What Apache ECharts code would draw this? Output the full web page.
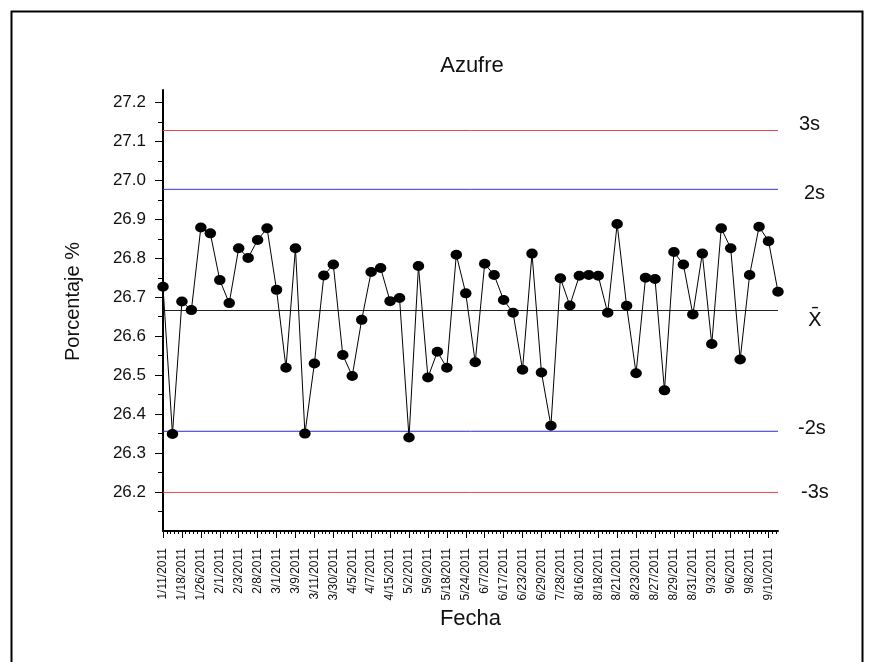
<!DOCTYPE html>
<html>
<head>
<meta charset="utf-8">
<title>Azufre</title>
<script src="https://cdn.jsdelivr.net/npm/echarts@6/dist/echarts.min.js"></script>
<style>
  html, body { margin: 0; padding: 0; background: #fff; }
  #chart { width: 870px; height: 662px; }
</style>
</head>
<body>
<div id="chart"></div>
<script>
// Sulfur content per sample (%), in sampling order
const sulfurValues = [
  26.727, 26.349, 26.689, 26.667, 26.879, 26.864, 26.744, 26.685, 26.826, 26.801,
  26.847, 26.877, 26.719, 26.519, 26.826, 26.350, 26.530, 26.756, 26.784, 26.552,
  26.498, 26.642, 26.765, 26.775, 26.690, 26.698, 26.340, 26.780, 26.494, 26.560,
  26.519, 26.809, 26.710, 26.533, 26.786, 26.757, 26.693, 26.660, 26.514, 26.812,
  26.507, 26.370, 26.749, 26.679, 26.755, 26.757, 26.755, 26.660, 26.888, 26.678,
  26.505, 26.750, 26.747, 26.461, 26.816, 26.784, 26.656, 26.812, 26.580, 26.877,
  26.826, 26.540, 26.757, 26.881, 26.844, 26.714
];

// Dates shown under every second sample
const dateLabels = [
  '1/11/2011', '1/18/2011', '1/26/2011', '2/1/2011', '2/3/2011', '2/8/2011',
  '3/1/2011', '3/9/2011', '3/11/2011', '3/30/2011', '4/5/2011', '4/7/2011',
  '4/15/2011', '5/2/2011', '5/9/2011', '5/18/2011', '5/24/2011', '6/7/2011',
  '6/17/2011', '6/23/2011', '6/29/2011', '7/28/2011', '8/16/2011', '8/18/2011',
  '8/21/2011', '8/23/2011', '8/27/2011', '8/29/2011', '8/31/2011', '9/3/2011',
  '9/6/2011', '9/8/2011', '9/10/2011'
];

// Control limits: +3s, +2s, mean, -2s, -3s
const limitValues = [27.128, 26.977, 26.666, 26.356, 26.199];
const limitNames = ['3s', '2s', 'X\u0304', '-2s', '-3s'];
const limitColors = ['#ee4444', '#3535f0', '#222222', '#2a2ae0', '#ee4444'];

// Y axis labelled values and minor tick values
const yLabelValues = [26.2, 26.3, 26.4, 26.5, 26.6, 26.7, 26.8, 26.9, 27.0, 27.1, 27.2];
const yMinorValues = [26.15, 26.25, 26.35, 26.45, 26.55, 26.65, 26.75, 26.85, 26.95, 27.05, 27.15];

const FONT = '"Liberation Sans", Arial, sans-serif';

const sampleIndex = sulfurValues.map((_, i) => i);
const labelIndex = dateLabels.map((_, i) => i * 2);
const lastIndex = sulfurValues.length - 1;

// Right-hand limit captions: left edge in px and vertical nudge from the line
const captionLeft = [799, 804, 808, 798, 801];
const captionNudge = [-6, 4, 10, -3, 0];

const chart = echarts.init(document.getElementById('chart'), null, { renderer: 'canvas' });

// each control limit is a flat line across the full sample range
const limitSeries = limitValues.map((v, i) => ({
  type: 'line',
  name: limitNames[i],
  data: [[0, v], [lastIndex, v]],
  symbol: 'none',
  silent: true,
  z: 2,
  lineStyle: { color: limitColors[i], width: 1, type: 'solid' },
  itemStyle: { color: limitColors[i] }
}));

chart.setOption({
  backgroundColor: '#ffffff',
  animation: false,
  title: {
    text: 'Azufre',
    left: 467,
    top: 50,
    textAlign: 'center',
    textStyle: { fontFamily: FONT, fontSize: 22, fontWeight: 'normal', color: '#111' }
  },
  grid: { left: 163, right: 92, top: 90, bottom: 131 },
  xAxis: {
    type: 'value',
    min: 0,
    max: lastIndex,
    interval: 2,
    name: 'Fecha',
    nameLocation: 'middle',
    nameGap: 69,
    nameTextStyle: { fontFamily: FONT, fontSize: 22, color: '#111' },
    axisLine: { show: true, onZero: false, lineStyle: { color: '#000', width: 2 } },
    axisTick: { show: true, inside: false, length: 7, customValues: labelIndex, lineStyle: { color: '#000', width: 1 } },
    minorTick: { show: true, splitNumber: 5, length: 3, lineStyle: { color: '#000', width: 1 } },
    axisLabel: {
      rotate: 90,
      margin: 17,
      customValues: labelIndex,
      fontFamily: FONT,
      fontSize: 12,
      color: '#111',
      formatter: v => dateLabels[Math.round(v / 2)] || ''
    },
    splitLine: { show: false }
  },
  yAxis: [{
    type: 'value',
    min: 26.1,
    max: 27.232,
    interval: 0.1,
    name: 'Porcentaje %',
    nameLocation: 'middle',
    nameGap: 80,
    nameRotate: 90,
    nameTextStyle: { fontFamily: FONT, fontSize: 20, color: '#111', padding: [0, 0, 0, 18] },
    axisLine: { show: true, onZero: false, lineStyle: { color: '#000', width: 2 } },
    axisTick: { show: true, inside: false, length: 8, customValues: yLabelValues, lineStyle: { color: '#000', width: 1 } },
    axisLabel: {
      margin: 17,
      customValues: yLabelValues,
      fontFamily: FONT,
      fontSize: 17,
      color: '#111',
      formatter: v => v.toFixed(1)
    },
    splitLine: { show: false }
  }, {
    // minor ticks every 0.05
    type: 'value',
    position: 'left',
    min: 26.1,
    max: 27.232,
    interval: 0.1,
    axisLine: { show: false },
    axisTick: { show: true, inside: false, length: 5, customValues: yMinorValues, lineStyle: { color: '#000', width: 1 } },
    axisLabel: { show: false },
    splitLine: { show: false }
  }],
  series: limitSeries.concat([{
    type: 'line',
    name: 'Azufre',
    yAxisIndex: 0,
    data: sampleIndex.map(i => [i, sulfurValues[i]]),
    symbol: 'circle',
    symbolSize: [11.5, 10],
    showAllSymbol: true,
    itemStyle: { color: '#000' },
    lineStyle: { color: '#000', width: 1 },
    z: 5
  }])
});

// frame around the figure and captions beside each control limit
const captions = limitValues.map((v, i) => ({
  type: 'text',
  x: captionLeft[i],
  y: chart.convertToPixel({ yAxisIndex: 0 }, v) + captionNudge[i],
  silent: true,
  style: {
    text: limitNames[i],
    fontFamily: i === 2 ? '"DejaVu Sans", sans-serif' : FONT,
    fontSize: 20,
    fill: '#111',
    textVerticalAlign: 'middle',
    verticalAlign: 'middle'
  }
}));

chart.setOption({
  graphic: [{
    type: 'rect',
    left: 9,
    top: 9,
    shape: { width: 851, height: 700 },
    style: { fill: 'none', stroke: '#000', lineWidth: 2 },
    silent: true
  }].concat(captions)
});
</script>
</body>
</html>
